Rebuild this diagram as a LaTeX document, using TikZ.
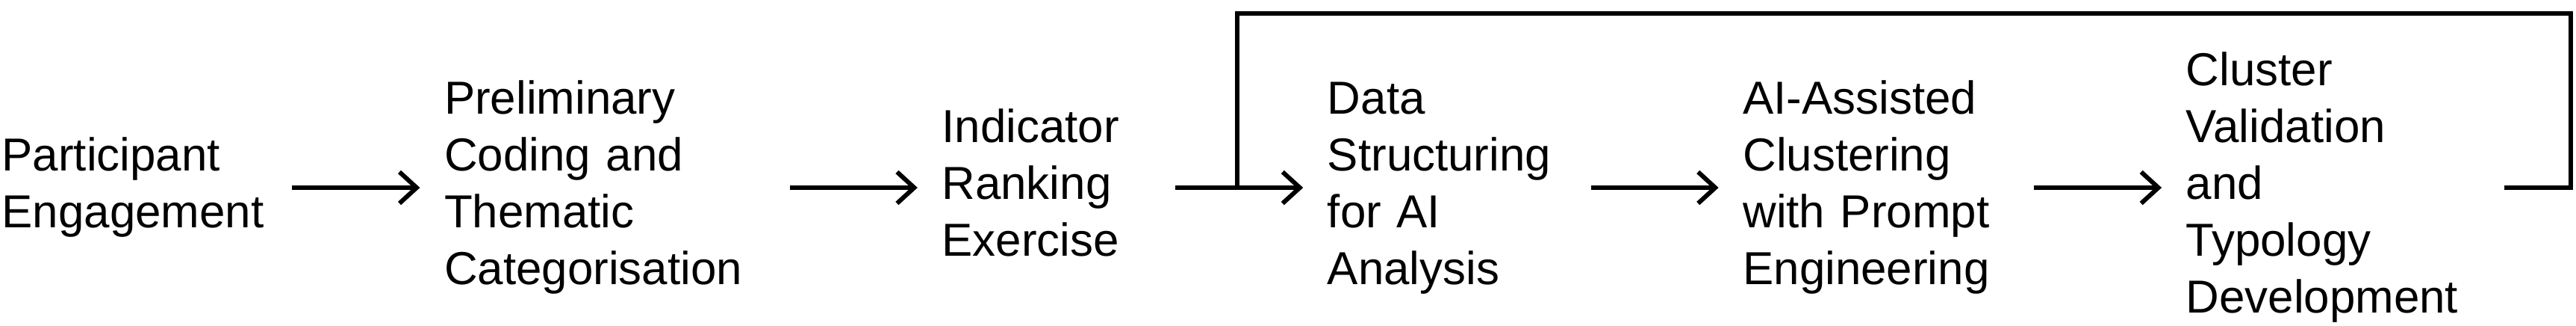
\documentclass[tikz,border=0pt]{standalone}
\usepackage{fontspec}
\setmainfont{Liberation Sans}
\usetikzlibrary{arrows.meta}
\usetikzlibrary{positioning}

\tikzset{
	stage/.style={inner sep=0pt, align=left, anchor=west, font=\fontsize{17.6}{21.6}\selectfont,
		execute at begin node=\strut, execute at end node=\strut},
	flow/.style={line width=1.7pt, -{Straight Barb[length=2.3mm,width=4.2mm]}, shorten >=3.2mm},
	feedback/.style={line width=1.7pt}
}

\begin{document}
\begin{tikzpicture}[node distance=2.03cm]
		\useasboundingbox (0,-1.90) rectangle (34.50,2.46);
		
		\node[stage, text width=3.88cm] (pe) at (0.02,-0.05) {Participant\\Engagement};
		\node[stage, text width=4.62cm, right=of pe] (pc) {Preliminary\\Coding and\\Thematic\\Categorisation};
		\node[stage, text width=3.12cm, right=of pc] (ir) {Indicator\\Ranking\\Exercise};
		\node[stage, text width=3.52cm, right=of ir] (ds) {Data\\Structuring\\for AI\\Analysis};
		\node[stage, text width=3.89cm, right=of ds] (ac) {AI-Assisted\\Clustering\\with Prompt\\Engineering};
		\node[stage, text width=4.26cm, right=of ac] (cv) {Cluster\\Validation\\and\\Typology\\Development};
		
		\draw [flow] (pe.east) -- (pc.west);
		\draw [flow] (pc.east) -- (ir.west);
		\draw [flow] (ir.east) -- (ds.west);
		\draw [flow] (ds.east) -- (ac.west);
		\draw [flow] (ac.east) -- (cv.west);
		
		\coordinate[right=0.83cm of ir.east] (join);
		\draw [feedback] (cv.east) -- ++(0.89,0) |- ([yshift=2.33cm]join) -- (join);
	\end{tikzpicture}
\end{document}
